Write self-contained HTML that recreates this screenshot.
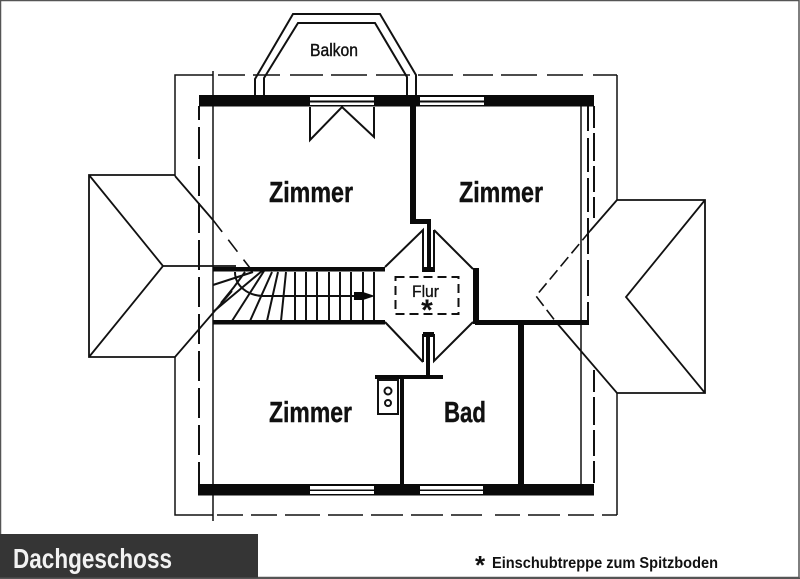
<!DOCTYPE html>
<html><head><meta charset="utf-8"><style>
html,body{margin:0;padding:0;background:#fff;width:800px;height:579px;overflow:hidden}
svg{display:block}
text{font-family:"Liberation Sans",sans-serif;fill:#111}
</style></head><body>
<svg width="800" height="579" viewBox="0 0 800 579" xmlns="http://www.w3.org/2000/svg">
<rect width="800" height="579" fill="#fff"/>
<rect x="0.5" y="0.5" width="798.5" height="577" fill="none" stroke="#555" stroke-width="1.5"/>
<g fill="none" stroke="#111" stroke-width="1.5">
<!-- outer roof -->
<path d="M213 75H175V176M617 200V75M175 357V515H213M617 393V515"/>
<path d="M218 75H617" stroke-dasharray="27 8 27 10 33 8 36 9 34 8 35 10 30 8 36 10 36 10"/>
<path d="M217 515H617" stroke-dasharray="26 8 26 8 35 8 35 8 32 8 32 8 31 13 25 8 32 8"/>
<path d="M213 71V521M581 106V484" stroke-width="1.5"/>
<path d="M199 106V484" stroke-width="2" stroke-dasharray="14 7 32 7 30 7 30 7 30 7 30 7 30 7 30 7 30 7 30 7 30 7"/>
<path d="M588 106V320" stroke-width="2" stroke-dasharray="25 7 34 6 34 6 36 6 36 6"/>
<path d="M594 106V218M594 370V484" stroke-width="2" stroke-dasharray="22 5 28 5 26 5"/>
<!-- left dormer -->
<path d="M175 175H89V357H175L232 291M89 175L163 266L89 357M163 266H236M175 176L213 220" stroke-width="1.8"/>
<path d="M213 220L250 268" stroke-width="1.6" stroke-dasharray="15 10"/>
<!-- right dormer -->
<path d="M617 200H705V393H617L556 322M705 200L626 297L705 393M617 200L590 231" stroke-width="1.8"/>
<path d="M590 231L536 296L556 322" stroke-width="1.6" stroke-dasharray="12 5"/>
<!-- balcony -->
<path d="M255 95V79L293 14H380L416 75V95M264 95V78L298 23H375L407 77V95" stroke-width="2"/>
<!-- door -->
<path d="M310 107V140L342 107L374 137V107" stroke-width="2"/>
<!-- flur -->
<path d="M385 267L423 230V272M434 230V272M434 230L473 269M473 322L434 361V334M423 362V334M423 362L385 322" stroke-width="2"/>
<rect x="395.500" y="277" width="63" height="37" stroke-width="2" stroke-dasharray="9 5"/>
<!-- stairs -->
<path d="M374 272V321M363 272V321M351 272V321M340 272V321M329 272V321M317 272V321M306 272V321M295 272V321M286 272L281 321M278 272L267 321M272 272L250 321M264 271L232 321M262 271L213 312M253 272L213 285M245 272L234 287L221 303M235 272C235 286 248 296 264 296H355" stroke-width="2"/>
<!-- stove -->
<rect x="378" y="380" width="20" height="34" stroke-width="2"/>
<circle cx="388" cy="391" r="3.500" stroke-width="2"/>
<circle cx="388" cy="403" r="3" stroke-width="2"/>
</g>
<!-- walls -->
<g fill="#0a0a0a">
<rect x="199" y="95" width="395" height="11.500"/>
<rect x="198" y="484" width="396" height="11.500"/>
<rect x="410" y="106" width="6" height="114"/>
<rect x="410" y="219" width="21" height="5"/>
<rect x="423" y="267" width="11" height="5"/>
<rect x="427" y="222" width="4" height="45"/>
<rect x="423" y="332" width="11" height="5"/>
<rect x="426" y="337" width="4" height="40"/>
<rect x="375" y="375" width="68" height="4"/>
<rect x="400" y="379" width="4" height="105"/>
<rect x="518" y="322" width="6" height="162"/>
<rect x="473" y="268" width="6" height="56"/>
<rect x="475" y="320" width="114" height="5"/>
<rect x="213" y="267" width="172" height="4.500"/>
<rect x="213" y="320" width="172" height="4.500"/>
<path d="M354 292H363L375 296L363 300H354Z"/>
</g>
<!-- windows -->
<g fill="#fff">
<rect x="310" y="97" width="64" height="3.500"/><rect x="310" y="102.500" width="64" height="2.500"/>
<rect x="420" y="97" width="64" height="3.500"/><rect x="420" y="102.500" width="64" height="2.500"/>
<rect x="310" y="486" width="64" height="3.500"/><rect x="310" y="491" width="64" height="3"/>
<rect x="420" y="486" width="63" height="3.500"/><rect x="420" y="491" width="63" height="3"/>
</g>
<!-- labels -->
<text x="310" y="56" font-size="17.500" textLength="48" lengthAdjust="spacingAndGlyphs" stroke="#111" stroke-width="0.4">Balkon</text>
<text x="269" y="202" font-size="29" font-weight="bold" textLength="84" lengthAdjust="spacingAndGlyphs" stroke="#111" stroke-width="0.4">Zimmer</text>
<text x="459" y="202" font-size="29" font-weight="bold" textLength="84" lengthAdjust="spacingAndGlyphs" stroke="#111" stroke-width="0.4">Zimmer</text>
<text x="269" y="422" font-size="29" font-weight="bold" textLength="83" lengthAdjust="spacingAndGlyphs" stroke="#111" stroke-width="0.4">Zimmer</text>
<text x="444" y="422" font-size="29" font-weight="bold" textLength="42" lengthAdjust="spacingAndGlyphs" stroke="#111" stroke-width="0.4">Bad</text>
<text x="412" y="297" font-size="17" textLength="27" lengthAdjust="spacingAndGlyphs" stroke="#111" stroke-width="0.3">Flur</text>
<text x="427" y="320" font-size="30" font-weight="bold" text-anchor="middle">*</text>
<rect x="0" y="534" width="258" height="45" fill="#353535"/>
<rect x="0" y="577.500" width="800" height="1.500" fill="#555"/>
<text x="13" y="568" font-size="28" font-weight="bold" textLength="159" lengthAdjust="spacingAndGlyphs" style="fill:#f2f2f2">Dachgeschoss</text>
<text x="475" y="574" font-size="26" font-weight="bold">*</text>
<text x="492" y="568" font-size="16" font-weight="bold" textLength="226" lengthAdjust="spacingAndGlyphs">Einschubtreppe zum Spitzboden</text>
</svg>
</body></html>
